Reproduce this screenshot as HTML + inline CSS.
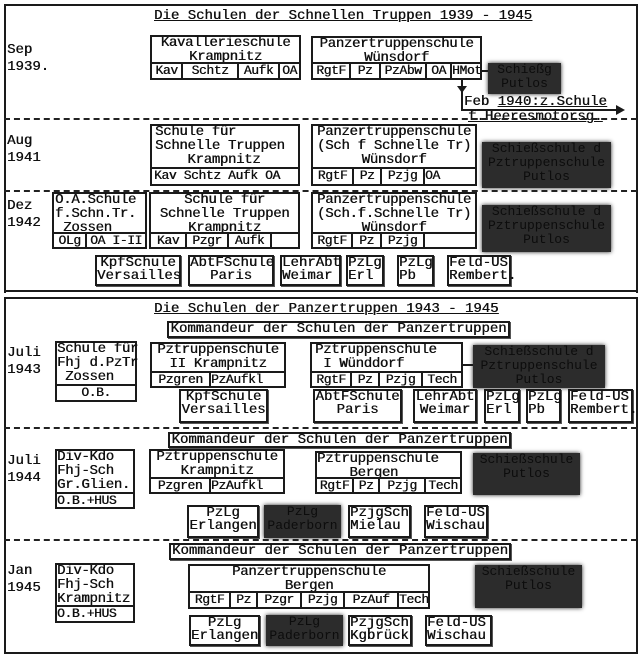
<!DOCTYPE html>
<html><head><meta charset="utf-8"><style>
html,body{margin:0;padding:0;background:#fff;}
body{width:641px;height:659px;position:relative;overflow:hidden;font-family:"Liberation Mono",monospace;color:#111;text-shadow:0.4px 0 0 #111;}
.a{position:absolute;}
.b{position:absolute;border:2px solid #1a1a1a;box-sizing:border-box;background:#fff;}
.t{position:absolute;left:0;right:0;top:-1px;text-align:center;font-size:14px;line-height:14px;white-space:pre;letter-spacing:-0.3px;}
.r{position:absolute;left:0;right:0;bottom:0;border-top:2px solid #1a1a1a;display:flex;font-size:13px;line-height:13px;letter-spacing:-0.4px;background:#fff;}
.r span{border-left:2px solid #1a1a1a;text-align:center;overflow:hidden;white-space:nowrap;}
.r span:first-child{border-left:none;}
.d{position:absolute;background:#2c2c2c;box-shadow:0 0 4px #222;color:#0c0c0c;font-size:13px;line-height:14px;text-align:center;white-space:pre;text-shadow:none;}
.lbl{position:absolute;left:7px;font-size:14px;line-height:17px;white-space:pre;}
.dash{position:absolute;left:4px;right:4px;height:0;border-top:2px dashed #222;}
.h{position:absolute;height:0;border-top:2px solid #1a1a1a;}
.v{position:absolute;width:0;border-left:2px solid #1a1a1a;}
.title{position:absolute;font-size:14px;line-height:14px;text-decoration:underline;white-space:pre;}
.k{position:absolute;border:2px solid #1a1a1a;box-sizing:border-box;font-size:14px;line-height:13px;text-align:center;white-space:pre;box-shadow:1px 1px 0 #555;}
</style></head><body>
<div class="a" style="left:4px;top:4px;width:630px;height:287px;border:2px solid #1a1a1a;border-bottom:none;"></div>
<div class="h" style="left:4px;width:632px;top:290px;"></div>
<div class="h" style="left:4px;width:632px;top:297px;"></div>
<div class="a" style="left:4px;top:297px;width:630px;height:355px;border:2px solid #1a1a1a;border-top:none;"></div>

<div class="title" style="left:154px;top:9px;">Die Schulen der Schnellen Truppen 1939 - 1945</div>

<div class="lbl" style="top:42px;">Sep
1939.</div>
<div class="b" style="left:150px;top:35px;width:151px;height:45px;"><div class="t">Kavallerieschule
Krampnitz</div><div class="r" style="height:14px;"><span style="width:29px">Kav</span><span style="width:54px">Schtz</span><span style="width:39px">Aufk</span><span style="flex:1">OA</span></div></div>
<div class="b" style="left:311px;top:36px;width:171px;height:44px;"><div class="t">Panzertruppenschule
Wünsdorf</div><div class="r" style="height:14px;"><span style="width:36px">RgtF</span><span style="width:28px">Pz</span><span style="width:44px">PzAbw</span><span style="width:23px">OA</span><span style="flex:1">HMot</span></div></div>
<div class="h" style="left:481px;width:8px;top:70px;"></div>
<div class="d" style="left:488px;top:63px;width:73px;height:31px;">Schießg
Putlos</div>
<div class="v" style="left:461px;top:80px;height:30px;"></div>
<div class="a" style="left:457px;top:86px;width:0;height:0;border-left:5px solid transparent;border-right:5px solid transparent;border-top:7px solid #1a1a1a;"></div>
<div class="h" style="left:461px;width:158px;top:109px;"></div>
<div class="a" style="left:616px;top:105px;width:0;height:0;border-top:5px solid transparent;border-bottom:5px solid transparent;border-left:9px solid #1a1a1a;"></div>
<div class="a" style="left:464px;top:95px;font-size:14px;line-height:14px;white-space:pre;">Feb <u>1940:z.Schule</u></div>
<div class="a" style="left:468px;top:110px;font-size:14px;line-height:14px;white-space:pre;text-decoration:underline;">f.Heeresmotorsg.</div>

<div class="dash" style="top:118px;"></div>

<div class="lbl" style="top:133px;">Aug
1941</div>
<div class="b" style="left:150px;top:124px;width:150px;height:62px;"><div class="t" style="text-align:left;padding-left:3px;">Schule für
Schnelle Truppen
    Krampnitz</div><div class="r" style="height:15px;"><span style="flex:1;text-align:left;padding-left:2px;border:none;">Kav Schtz Aufk OA</span></div></div>
<div class="b" style="left:311px;top:124px;width:166px;height:62px;"><div class="t">Panzertruppenschule
(Sch f Schnelle Tr)
Wünsdorf</div><div class="r" style="height:15px;"><span style="width:39px">RgtF</span><span style="width:26px">Pz</span><span style="width:41px">Pzjg</span><span style="flex:1;text-align:left">OA</span></div></div>
<div class="d" style="left:482px;top:142px;width:129px;height:46px;">Schießschule d
Pztruppenschule
Putlos</div>

<div class="dash" style="top:190px;"></div>

<div class="lbl" style="top:198px;">Dez
1942</div>
<div class="b" style="left:52px;top:192px;width:95px;height:57px;"><div class="t" style="text-align:left;padding-left:1px;">O.A.Schule
f.Schn.Tr.
 Zossen</div><div class="r" style="height:13px;"><span style="width:31px">OLg</span><span style="flex:1">OA I-II</span></div></div>
<div class="b" style="left:149px;top:192px;width:151px;height:57px;"><div class="t">Schule für
Schnelle Truppen
Krampnitz</div><div class="r" style="height:13px;"><span style="width:34px">Kav</span><span style="width:40px">Pzgr</span><span style="width:41px">Aufk</span><span style="flex:1"></span></div></div>
<div class="b" style="left:311px;top:192px;width:166px;height:57px;"><div class="t">Panzertruppenschule
(Sch.f.Schnelle Tr)
Wünsdorf</div><div class="r" style="height:13px;"><span style="width:38px">RgtF</span><span style="width:27px">Pz</span><span style="width:41px">Pzjg</span><span style="flex:1"></span></div></div>
<div class="d" style="left:482px;top:205px;width:129px;height:47px;">Schießschule d
Pztruppenschule
Putlos</div>

<div class="k" style="left:95px;top:255px;width:86px;height:31px;">KpfSchule
Versailles</div>
<div class="k" style="left:188px;top:255px;width:86px;height:31px;">AbtFSchule
Paris</div>
<div class="k" style="left:280px;top:255px;width:61px;height:31px;text-align:left;">LehrAbt
Weimar</div>
<div class="k" style="left:346px;top:255px;width:38px;height:31px;text-align:left;">PzLg
Erl</div>
<div class="k" style="left:397px;top:255px;width:37px;height:31px;text-align:left;">PzLg
Pb</div>
<div class="k" style="left:447px;top:255px;width:64px;height:31px;text-align:left;">Feld-US
Rembert.</div>

<div class="title" style="left:154px;top:302px;">Die Schulen der Panzertruppen 1943 - 1945</div>
<div class="k" style="left:167px;top:321px;width:343px;height:17px;">Kommandeur der Schulen der Panzertruppen</div>

<div class="lbl" style="top:345px;">Juli
1943</div>
<div class="b" style="left:55px;top:341px;width:82px;height:61px;"><div class="t" style="text-align:left;">Schule für
Fhj d.PzTr
 Zossen</div><div class="r" style="height:14px;"><span style="flex:1">O.B.</span></div></div>
<div class="b" style="left:150px;top:342px;width:136px;height:46px;"><div class="t">Pztruppenschule
II Krampnitz</div><div class="r" style="height:13px;"><span style="width:57px">Pzgren</span><span style="flex:1;text-align:left">PzAufkl</span></div></div>
<div class="b" style="left:310px;top:342px;width:153px;height:46px;"><div class="t" style="text-align:left;padding-left:3px;">Pztruppenschule
 I Wünddorf</div><div class="r" style="height:13px;"><span style="width:38px">RgtF</span><span style="width:26px">Pz</span><span style="width:41px">Pzjg</span><span style="flex:1">Tech</span></div></div>
<div class="h" style="left:462px;width:12px;top:364px;"></div>
<div class="d" style="left:473px;top:345px;width:132px;height:43px;">Schießschule d
Pztruppenschule
Putlos</div>
<div class="k" style="left:179px;top:389px;width:89px;height:34px;">KpfSchule
Versailles</div>
<div class="k" style="left:313px;top:389px;width:89px;height:34px;">AbtFSchule
Paris</div>
<div class="k" style="left:413px;top:389px;width:64px;height:34px;">LehrAbt
Weimar</div>
<div class="k" style="left:484px;top:389px;width:36px;height:34px;text-align:left;">PzLg
Erl</div>
<div class="k" style="left:526px;top:389px;width:35px;height:34px;text-align:left;">PzLg
Pb</div>
<div class="k" style="left:568px;top:389px;width:65px;height:34px;text-align:left;">Feld-US
Rembert.</div>

<div class="dash" style="top:427px;"></div>

<div class="k" style="left:168px;top:432px;width:343px;height:16px;">Kommandeur der Schulen der Panzertruppen</div>
<div class="lbl" style="top:453px;">Juli
1944</div>
<div class="b" style="left:55px;top:449px;width:80px;height:60px;"><div class="t" style="text-align:left;">Div-Kdo
Fhj-Sch
Gr.Glien.</div><div class="r" style="height:13px;"><span style="flex:1;text-align:left">O.B.+HUS</span></div></div>
<div class="b" style="left:149px;top:449px;width:136px;height:45px;"><div class="t">Pztruppenschule
Krampnitz</div><div class="r" style="height:13px;"><span style="width:58px">Pzgren</span><span style="flex:1;text-align:left">PzAufkl</span></div></div>
<div class="b" style="left:315px;top:451px;width:147px;height:43px;"><div class="t" style="text-align:left;">Pztruppenschule
    Bergen</div><div class="r" style="height:13px;"><span style="width:35px">RgtF</span><span style="width:24px">Pz</span><span style="width:44px">Pzjg</span><span style="flex:1">Tech</span></div></div>
<div class="d" style="left:473px;top:453px;width:107px;height:42px;">Schießschule
Putlos</div>
<div class="k" style="left:187px;top:505px;width:72px;height:33px;">PzLg
Erlangen</div>
<div class="d" style="left:264px;top:505px;width:77px;height:33px;">PzLg
Paderborn</div>
<div class="k" style="left:348px;top:505px;width:63px;height:33px;text-align:left;">PzjgSch
Mielau</div>
<div class="k" style="left:424px;top:505px;width:64px;height:33px;text-align:left;">Feld-US
Wischau</div>

<div class="dash" style="top:539px;"></div>

<div class="k" style="left:169px;top:543px;width:342px;height:17px;">Kommandeur der Schulen der Panzertruppen</div>
<div class="lbl" style="top:563px;">Jan
1945</div>
<div class="b" style="left:55px;top:563px;width:80px;height:60px;"><div class="t" style="text-align:left;">Div-Kdo
Fhj-Sch
Krampnitz</div><div class="r" style="height:14px;"><span style="flex:1;text-align:left">O.B.+HUS</span></div></div>
<div class="b" style="left:188px;top:564px;width:242px;height:45px;"><div class="t">Panzertruppenschule
Bergen</div><div class="r" style="height:14px;"><span style="width:39px">RgtF</span><span style="width:25px">Pz</span><span style="width:42px">Pzgr</span><span style="width:41px">Pzjg</span><span style="width:52px">PzAuf</span><span style="flex:1">Tech</span></div></div>
<div class="d" style="left:475px;top:565px;width:107px;height:43px;">Schießschule
Putlos</div>
<div class="k" style="left:189px;top:615px;width:71px;height:31px;">PzLg
Erlangen</div>
<div class="d" style="left:266px;top:615px;width:77px;height:31px;">PzLg
Paderborn</div>
<div class="k" style="left:348px;top:615px;width:64px;height:31px;text-align:left;">PzjgSch
Kgbrück</div>
<div class="k" style="left:425px;top:615px;width:67px;height:31px;text-align:left;">Feld-US
Wischau</div>
</body></html>
